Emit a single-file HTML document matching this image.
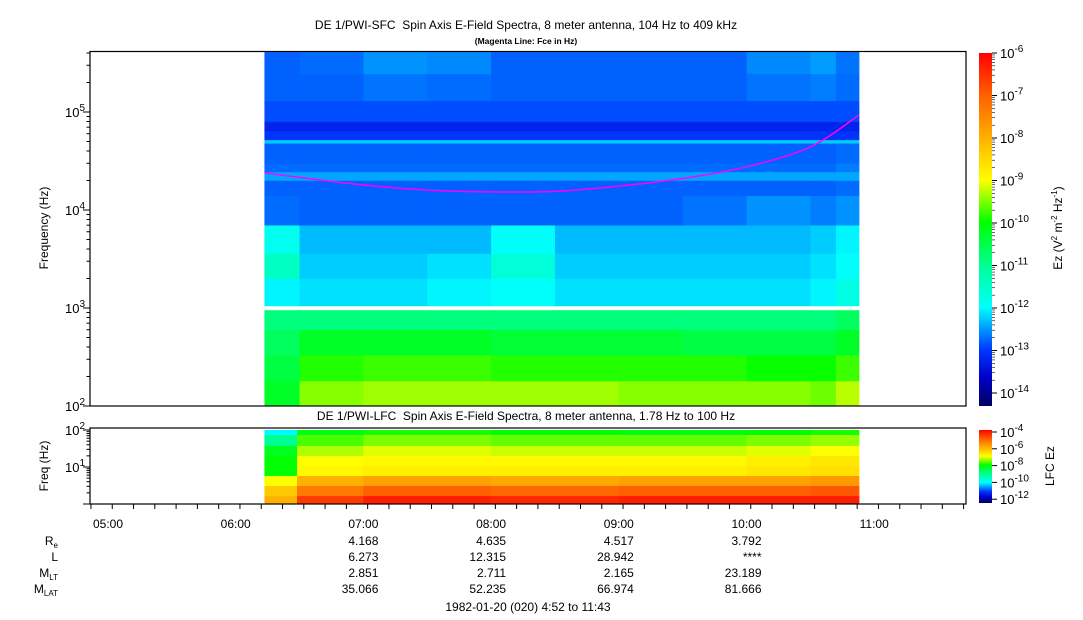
<!DOCTYPE html>
<html><head><meta charset="utf-8"><style>
html,body{margin:0;padding:0;background:#fff;width:1083px;height:620px;overflow:hidden}
svg{display:block;font-family:"Liberation Sans",sans-serif}
</style></head><body>
<svg id="chart" width="1083" height="620" viewBox="0 0 1083 620" xmlns="http://www.w3.org/2000/svg">
<defs>
<linearGradient id="cbar" x1="0" y1="1" x2="0" y2="0">
<stop offset="0" stop-color="#000060"/><stop offset="0.08" stop-color="#0000c8"/><stop offset="0.16" stop-color="#0038ff"/>
<stop offset="0.28" stop-color="#00ffff"/><stop offset="0.40" stop-color="#00ff90"/><stop offset="0.52" stop-color="#00ff00"/>
<stop offset="0.64" stop-color="#ffff00"/><stop offset="0.76" stop-color="#ffb000"/><stop offset="0.88" stop-color="#ff6000"/><stop offset="1" stop-color="#ff0000"/>
</linearGradient>
<clipPath id="lfcclip"><rect x="90" y="428" width="876" height="76"/></clipPath>
</defs>
<g id="sfc-cells"></g>
<g id="lfc-cells" clip-path="url(#lfcclip)"></g>
<path id="fce" fill="none" stroke="#ff00ff" stroke-width="1.5"/>
<rect x="90" y="51.5" width="876" height="354.5" fill="none" stroke="#000" stroke-width="1.2"/>
<rect x="90" y="428" width="876" height="76" fill="none" stroke="#000" stroke-width="1.2"/>
<g id="axes"></g>
<text x="526" y="29" font-size="12" text-anchor="middle">DE 1/PWI-SFC&#160; Spin Axis E-Field Spectra, 8 meter antenna, 104 Hz to 409 kHz</text>
<text x="526" y="44" font-size="8.5" font-weight="bold" text-anchor="middle">(Magenta Line: Fce in Hz)</text>
<text x="526" y="420" font-size="12" text-anchor="middle">DE 1/PWI-LFC&#160; Spin Axis E-Field Spectra, 8 meter antenna, 1.78 Hz to 100 Hz</text>
<text transform="translate(48,228) rotate(-90)" font-size="12" text-anchor="middle">Frequency (Hz)</text>
<text transform="translate(48,466) rotate(-90)" font-size="12" text-anchor="middle">Freq (Hz)</text>
<rect x="979" y="53" width="13" height="353" fill="url(#cbar)"/>
<rect x="979" y="430" width="13" height="73" fill="url(#cbar)"/>
<text transform="translate(1062,228) rotate(-90)" font-size="12" text-anchor="middle">Ez (V<tspan dy="-5" font-size="8">2</tspan><tspan dy="5"> m</tspan><tspan dy="-5" font-size="8">-2</tspan><tspan dy="5"> Hz</tspan><tspan dy="-5" font-size="8">-1</tspan><tspan dy="5">)</tspan></text>
<text transform="translate(1054,466) rotate(-90)" font-size="12" text-anchor="middle">LFC Ez</text>
<g id="ephem" font-size="12"></g>
<text x="528" y="611" font-size="12" text-anchor="middle">1982-01-20 (020) 4:52 to 11:43</text>
</svg>
<script>
// ---- data ----
const sfcTimeEdges = [6.225, 6.5, 7.0, 7.5, 8.0, 8.5, 9.0, 9.5, 10.0, 10.5, 10.7, 10.88];
const sfcRowLow  = [100, 180, 330, 600, 1050, 2000, 3600, 7000, 14000, 20000, 24500, 30000, 48000, 52000, 64000, 80000, 130000, 245000];
const sfcRowHigh = [180, 330, 600, 950, 2000, 3600, 7000, 14000, 20000, 24500, 30000, 48000, 52000, 64000, 80000, 130000, 245000, 409000];
const sfcValues = [
 [-10.3,-9.5,-9.4,-9.4,-9.4,-9.4,-9.5,-9.5,-9.5,-9.6,-9.3],
 [-10.5,-9.9,-9.8,-9.8,-9.9,-9.9,-9.9,-9.9,-10.0,-10.0,-9.8],
 [-10.7,-10.3,-10.3,-10.3,-10.4,-10.4,-10.4,-10.5,-10.5,-10.5,-10.3],
 [-10.9,-10.9,-10.9,-10.9,-10.9,-10.9,-10.9,-10.9,-10.9,-10.9,-10.7],
 [-12.1,-12.2,-12.2,-12.1,-12.0,-12.2,-12.2,-12.2,-12.2,-12.1,-11.8],
 [-11.5,-12.3,-12.3,-12.2,-11.7,-12.3,-12.3,-12.3,-12.3,-12.2,-12.0],
 [-11.9,-12.4,-12.4,-12.4,-12.0,-12.4,-12.4,-12.4,-12.4,-12.3,-12.1],
 [-12.8,-12.85,-12.85,-12.85,-12.85,-12.85,-12.85,-12.75,-12.6,-12.7,-12.6],
 [-12.85,-12.85,-12.85,-12.85,-12.85,-12.85,-12.85,-12.85,-12.85,-12.85,-12.8],
 [-12.5,-12.5,-12.5,-12.5,-12.5,-12.5,-12.5,-12.5,-12.5,-12.5,-12.5],
 [-12.8,-12.8,-12.8,-12.8,-12.8,-12.8,-12.8,-12.8,-12.8,-12.8,-12.7],
 [-12.85,-12.85,-12.85,-12.85,-12.85,-12.85,-12.85,-12.85,-12.85,-12.85,-12.8],
 [-12.3,-12.3,-12.3,-12.3,-12.3,-12.3,-12.3,-12.3,-12.3,-12.3,-12.3],
 [-13.1,-13.1,-13.1,-13.1,-13.1,-13.1,-13.1,-13.1,-13.1,-13.1,-13.1],
 [-13.3,-13.3,-13.3,-13.3,-13.3,-13.3,-13.3,-13.3,-13.3,-13.3,-13.3],
 [-12.95,-12.95,-12.95,-12.95,-12.95,-12.95,-12.95,-12.95,-12.95,-12.95,-12.95],
 [-12.85,-12.85,-12.75,-12.8,-12.85,-12.85,-12.85,-12.85,-12.75,-12.7,-12.8],
 [-12.85,-12.8,-12.6,-12.65,-12.85,-12.85,-12.85,-12.85,-12.65,-12.55,-12.75]
];
const lfcTimeEdges = [6.225, 6.48, 7.0, 8.0, 9.0, 10.0, 10.5, 10.88];
const lfcRowLow  = [73, 37, 19.8, 10.6, 5.7, 3.06, 1.64, 0.9];
const lfcRowHigh = [100, 73, 37, 19.8, 10.6, 5.7, 3.06, 1.64];
const lfcValues = [
 [-10.0,-8.1,-7.9,-8.0,-8.1,-8.0,-7.9],
 [-9.0,-7.7,-7.5,-7.6,-7.6,-7.5,-7.4],
 [-8.2,-7.3,-7.1,-7.2,-7.2,-7.1,-7.0],
 [-8.0,-7.0,-6.9,-6.9,-6.9,-6.8,-6.7],
 [-8.0,-6.9,-6.8,-6.8,-6.8,-6.7,-6.6],
 [-7.0,-6.0,-5.8,-5.9,-5.8,-5.8,-5.7],
 [-6.3,-5.3,-5.0,-5.1,-5.0,-5.0,-4.9],
 [-6.0,-4.6,-4.3,-4.4,-4.3,-4.3,-4.3]
];
const fceHours = [6.225, 6.5, 7.0, 7.5, 8.0, 8.5, 9.0, 9.5, 10.0, 10.5, 10.88];
const fceHz = [24000, 21500, 18000, 16000, 15300, 15500, 17500, 21000, 27500, 44000, 93000];
const hourTicks = [5, 6, 7, 8, 9, 10, 11];
const hourLabels = ["05:00","06:00","07:00","08:00","09:00","10:00","11:00"];
const ephemHours = [7, 8, 9, 10];
const ephemRe = ["4.168","4.635","4.517","3.792"];
const ephemL = ["6.273","12.315","28.942","****"];
const ephemMLT = ["2.851","2.711","2.165","23.189"];
const ephemMLAT = ["35.066","52.235","66.974","81.666"];

// ---- scales ----
const xT = h => 108 + (h - 5) * 127.7;
const ySfc = f => 406 - (Math.log10(f) - 2) * 98;
const yLfc = f => 430 + (2 - Math.log10(f)) * 37;
const NS = "http://www.w3.org/2000/svg";
const stops = [[0,[0,0,96]],[0.08,[0,0,200]],[0.16,[0,56,255]],[0.28,[0,255,255]],[0.40,[0,255,144]],[0.52,[0,255,0]],[0.64,[255,255,0]],[0.76,[255,176,0]],[0.88,[255,96,0]],[1,[255,0,0]]];
function cmap(t){t=Math.max(0,Math.min(1,t));for(let i=1;i<stops.length;i++){if(t<=stops[i][0]){const a=stops[i-1],b=stops[i],u=(t-a[0])/(b[0]-a[0]);return "rgb("+a[1].map((c,k)=>Math.round(c+(b[1][k]-c)*u)).join(",")+")";}}return "rgb(255,0,0)";}
const sfcColor = v => cmap((v + 14.4) / 8.4);
const lfcColor = v => cmap((v + 12.3) / 8.3);

function mk(tag, attrs, parent){const e=document.createElementNS(NS,tag);for(const k in attrs)e.setAttribute(k,attrs[k]);parent.appendChild(e);return e;}

const gS = document.getElementById("sfc-cells");
sfcValues.forEach((row, r) => row.forEach((v, c) => {
  const x0 = xT(sfcTimeEdges[c]), x1 = xT(sfcTimeEdges[c+1]);
  const y0 = ySfc(sfcRowHigh[r]), y1 = ySfc(sfcRowLow[r]);
  const e = mk("rect", {x:x0, y:y0, width:x1-x0+0.5, height:y1-y0+0.3, fill:sfcColor(v)}, gS);
  
  
}));
const gL = document.getElementById("lfc-cells");
lfcValues.forEach((row, r) => row.forEach((v, c) => {
  const x0 = xT(lfcTimeEdges[c]), x1 = xT(lfcTimeEdges[c+1]);
  const y0 = yLfc(lfcRowHigh[r]), y1 = yLfc(lfcRowLow[r]);
  const e = mk("rect", {x:x0, y:y0, width:x1-x0+0.5, height:y1-y0+0.3, fill:lfcColor(v)}, gL);
  
  
}));
// smooth Fce curve (Catmull-Rom)
(function(){
  const P = fceHours.map((h,i)=>[xT(h), ySfc(fceHz[i])]);
  let d = "M" + P[0][0] + "," + P[0][1];
  for (let i = 0; i < P.length - 1; i++) {
    const p0 = P[Math.max(0,i-1)], p1 = P[i], p2 = P[i+1], p3 = P[Math.min(P.length-1,i+2)];
    const c1 = [p1[0]+(p2[0]-p0[0])/6, p1[1]+(p2[1]-p0[1])/6];
    const c2 = [p2[0]-(p3[0]-p1[0])/6, p2[1]-(p3[1]-p1[1])/6];
    d += " C" + c1.join(",") + " " + c2.join(",") + " " + p2.join(",");
  }
  document.getElementById("fce").setAttribute("d", d);
})();

const ax = document.getElementById("axes");
for (let d = 2; d <= 5; d++) for (let m = 1; m <= 9; m++) {
  const f = m * Math.pow(10, d); if (f > 409000) break;
  const y = ySfc(f);
  mk("line", {x1: 90 - (m===1?7:3.5), x2: 90, y1: y, y2: y, stroke:"#000"}, ax);
  if (m === 1) { const t = mk("text", {x: 85, y: y + 5, "font-size": 13, "text-anchor": "end"}, ax);
    t.innerHTML = '10<tspan dy="-6" font-size="10">' + d + '</tspan>';
      }
}
for (let d = 0; d <= 1; d++) for (let m = 1; m <= 10; m++) {
  const f = m * Math.pow(10, d);
  const y = yLfc(f); if (y > 504) continue;
  mk("line", {x1: 90 - ((m===1||m===10)?7:3.5), x2: 90, y1: y, y2: y, stroke:"#000"}, ax);
}
[[1,10],[2,100]].forEach(([p,f]) => { const t = mk("text", {x: 85, y: yLfc(f) + 5, "font-size": 13, "text-anchor": "end"}, ax);
  t.innerHTML = '10<tspan dy="-6" font-size="10">' + p + '</tspan>';
    });
for (let m = 0; m <= 41; m++) { const h = 4 + 52/60 + m*10/60; const mm = Math.round(h*60);
  if (h > 11.72) break; const maj = mm % 60 === 0; const x = xT(h);
  mk("line", {x1:x, x2:x, y1:504, y2: maj?512:509, stroke:"#000"}, ax); }
hourTicks.forEach((h,i) => { const t = mk("text", {x:xT(h), y:528, "font-size":12, "text-anchor":"middle"}, ax); t.textContent = hourLabels[i];
    });
for (let p = -14; p <= -6; p++) { const y = 53 + (-6 - p) * 42.5;
  mk("line", {x1:992, x2:997, y1:y, y2:y, stroke:"#000"}, ax);
  for (let m = 2; m <= 9; m++) { const yy = y - Math.log10(m)*42.5; if (yy < 53) break; mk("line", {x1:992, x2:995, y1:yy, y2:yy, stroke:"#000", "stroke-width":0.6}, ax); }
  const t = mk("text", {x:1000, y:y+5, "font-size":13}, ax); t.innerHTML = '10<tspan dy="-6" font-size="10">' + p + '</tspan>';
    }
[-4,-6,-8,-10,-12].forEach(p => { const y = 432 + (-4 - p) * 8.4;
  mk("line", {x1:992, x2:997, y1:y, y2:y, stroke:"#000"}, ax);
  const t = mk("text", {x:1000, y:y+5, "font-size":13}, ax); t.innerHTML = '10<tspan dy="-6" font-size="10">' + p + '</tspan>';
    });
const eg = document.getElementById("ephem");
const rowsE = [[ephemRe,545],[ephemL,561],[ephemMLT,577],[ephemMLAT,593]];
const rowNames = ['R<tspan font-size="8" dy="3">e</tspan>','L','M<tspan font-size="8" dy="3">LT</tspan>','M<tspan font-size="8" dy="3">LAT</tspan>'];
rowsE.forEach(([arr,y],r) => {
  const lt = mk("text", {x:58, y:y, "text-anchor":"end"}, eg); lt.innerHTML = rowNames[r];
   
  arr.forEach((v,i) => { const t = mk("text", {x:xT(ephemHours[i])+15, y:y, "text-anchor":"end"}, eg); t.textContent = v;
      });
});
</script>
</body></html>
